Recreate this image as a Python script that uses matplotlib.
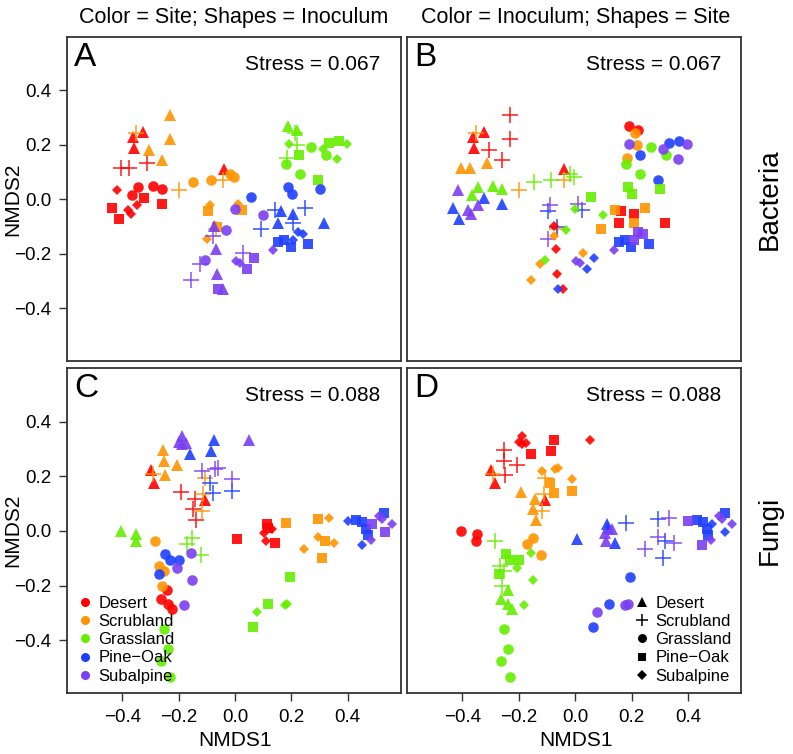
import matplotlib
matplotlib.use('Agg')
import matplotlib.pyplot as plt
from matplotlib.lines import Line2D

plt.rcParams['font.family'] = ['Liberation Sans', 'DejaVu Sans']

# ---------------- categories ----------------
codes = ['D', 'S', 'G', 'P', 'U']
names = ['Desert', 'Scrubland', 'Grassland', 'Pine\u2212Oak', 'Subalpine']
colors = {'D': '#FF0000', 'S': '#FF9400', 'G': '#66EE00', 'P': '#1F3FFF', 'U': '#7B3FF2'}
markers = {'D': '^', 'S': '+', 'G': 'o', 'P': 's', 'U': 'D'}

# ---------------- Bacteria ----------------
bac_site = ("DDDD" "DDD" "DDDD" "DDDD" "DDDD"
            "SSSS" "SSSS" "SSSS" "SSS" "SSS"
            "GG" "GGG" "GGGG" "GGGG" "GGGG"
            "PPPP" "PPPP" "PPPP" "PPPP" "PPP"
            "UUUU" "UUUU" "UUUU" "UUU" "UUU")
bac_inoc = ("DDDD" "SSS" "GGGG" "PPPP" "UUUU"
            "DDDD" "SSSS" "GGGG" "PPP" "UUU"
            "DD" "SSS" "GGGG" "PPPP" "UUUU"
            "DDDD" "SSSS" "GGGG" "PPPP" "UUU"
            "DDDD" "SSSS" "GGGG" "PPP" "UUU")
bac_x = [-0.325, -0.361, -0.358, -0.039, -0.405, -0.375, -0.313,
         -0.345, -0.366, -0.292, -0.260, -0.322, -0.435, -0.411, -0.260,
         -0.417, -0.346, -0.380, -0.370,
         -0.230, -0.230, -0.305, -0.260, -0.351, -0.200, -0.041, -0.066,
         -0.148, -0.085, -0.018, -0.004, -0.097, 0.025, -0.065,
         -0.090, 0.010, -0.098,
         0.189, 0.221, 0.213, 0.219, 0.183, 0.270, 0.322, 0.180, 0.230,
         0.228, 0.333, 0.369, 0.293, 0.191, 0.311, 0.398, 0.363,
         0.163, 0.207, 0.154, 0.317, 0.142, 0.248, 0.207, 0.092,
         0.187, 0.203, 0.057, 0.301, 0.154, 0.175, 0.198, 0.260,
         0.222, 0.242, 0.207,
         -0.074, -0.067, -0.063, -0.044, -0.077, -0.124, -0.156, 0.029,
         0.000, -0.033, -0.106, 0.100, -0.061, 0.068, 0.041,
         0.004, 0.018, 0.136]
bac_y = [0.247, 0.228, 0.189, 0.110, 0.114, 0.116, 0.132,
         0.045, 0.015, 0.051, 0.037, 0.006, -0.030, -0.073, -0.018,
         0.034, -0.022, -0.039, -0.052,
         0.311, 0.223, 0.181, 0.143, 0.244, 0.033, 0.071, -0.110,
         0.063, 0.073, 0.094, 0.083, -0.043, -0.040, -0.100,
         -0.021, -0.016, -0.144,
         0.271, 0.256, 0.244, 0.201, 0.153, 0.192, 0.162, 0.131, 0.095,
         0.162, 0.208, 0.214, 0.071, 0.204, 0.186, 0.204, 0.150,
         -0.043, -0.052, -0.085, -0.088, -0.040, -0.030, -0.085, -0.107,
         0.047, 0.021, 0.010, 0.040, -0.156, -0.149, -0.173, -0.162,
         -0.120, -0.126, -0.150,
         -0.098, -0.183, -0.275, -0.330, -0.134, -0.238, -0.297, -0.195,
         -0.037, -0.112, -0.222, -0.058, -0.330, -0.216, -0.254,
         -0.227, -0.234, -0.186]

# ---------------- Fungi ----------------
fun_site = ("DDD" "DDDD" "DDDD" "DDDD" "DDD"
            "SSSS" "SSSS" "SSSS" "SSSS" "SSSS"
            "GGG" "GGG" "GGGG" "GGG" "GGG"
            "PPP" "PPP" "PPPP" "PPPPP" "PP"
            "UUUUU" "UUUU" "UUUU" "UU" "UUUU")
fun_inoc = ("DDD" "SSSS" "GGGG" "PPPP" "UUU"
            "DDDD" "SSSS" "GGGG" "PPPP" "UUUU"
            "DDD" "SSS" "GGGG" "PPP" "UUU"
            "DDD" "SSS" "GGGG" "PPPPP" "UU"
            "DDDDD" "SSSS" "GGGG" "PP" "UUUU")
fun_x = [-0.298, -0.286, -0.106, -0.191, -0.142, -0.150, -0.138,
         -0.240, -0.263, -0.237, -0.224, 0.006, 0.112, 0.117, 0.142,
         0.104, 0.130, 0.110,
         -0.254, -0.252, -0.207, -0.248, -0.290, -0.106, -0.112, -0.118,
         -0.283, -0.268, -0.252, -0.260, 0.180, 0.295, 0.319, 0.310,
         0.333, 0.295, 0.352, 0.246,
         -0.405, -0.350, -0.353, -0.151, -0.171, -0.122,
         -0.252, -0.237, -0.262, -0.230, 0.196, 0.118, 0.063,
         0.078, 0.177, 0.186,
         -0.076, -0.086, -0.158, -0.090, -0.077, -0.012,
         -0.247, -0.230, -0.198, -0.269, 0.431, 0.452, 0.466, 0.472, 0.530,
         0.401, 0.451,
         -0.188, -0.199, -0.188, -0.174, 0.051, -0.118, -0.071, -0.060, -0.012,
         -0.157, -0.205, -0.151, -0.180, 0.485, 0.532,
         0.511, 0.520, 0.556, 0.482]
fun_y = [0.223, 0.177, 0.112, 0.144, 0.116, 0.079, 0.040,
         -0.217, -0.248, -0.266, -0.285, -0.029, 0.025, 0.011, -0.046,
         -0.006, 0.006, -0.037,
         0.297, 0.256, 0.241, 0.205, 0.208, 0.195, 0.136, 0.073,
         -0.038, -0.128, -0.147, -0.200, 0.028, 0.043, -0.037, -0.099,
         0.048, -0.023, -0.044, -0.066,
         -0.001, -0.011, -0.038, -0.027, -0.049, -0.088,
         -0.359, -0.432, -0.477, -0.533, -0.170, -0.267, -0.351,
         -0.296, -0.270, -0.266,
         0.333, 0.293, 0.280, 0.175, 0.138, 0.147,
         -0.083, -0.107, -0.107, -0.156, 0.039, 0.033, 0.007, -0.015, 0.067,
         0.037, -0.051,
         0.348, 0.326, 0.319, 0.322, 0.331, 0.218, 0.225, 0.229, 0.189,
         -0.079, -0.134, -0.179, -0.272, 0.025, -0.004,
         0.056, 0.042, 0.027, -0.032]

stress_bac = "Stress = 0.067"
stress_fun = "Stress = 0.088"
yticks = [-0.4, -0.2, 0.0, 0.2, 0.4]
xticks = [-0.4, -0.2, 0.0, 0.2, 0.4]

# ---------------- figure ----------------
W, H = 793, 754
fig = plt.figure(figsize=(W / 100, H / 100), dpi=100)


def rect(l, t, r, b):
    return [l / W, 1 - b / H, (r - l) / W, (b - t) / H]


ax_A = fig.add_axes(rect(67.3, 37, 400.7, 361))
ax_B = fig.add_axes(rect(407.5, 37, 741, 361))
ax_C = fig.add_axes(rect(67.3, 368, 400.7, 693))
ax_D = fig.add_axes(rect(407.5, 368, 741, 693))

msz = {'^': 8.8, '+': 11, 'o': 7.6, 's': 7.0, 'D': 5.6}


def draw(ax, site, inoc, xs, ys, color_by_site):
    for s, i, x, y in zip(site, inoc, xs, ys):
        c = colors[s] if color_by_site else colors[i]
        m = markers[i] if color_by_site else markers[s]
        if m == '+':
            ax.plot([x], [y], linestyle='none', marker=m, ms=msz[m], mew=1.1,
                    color=c, alpha=0.9)
        else:
            ax.plot([x], [y], linestyle='none', marker=m, ms=msz[m], mew=0,
                    color=c, alpha=0.9)


draw(ax_A, bac_site, bac_inoc, bac_x, bac_y, True)
draw(ax_B, bac_site, bac_inoc, bac_x, bac_y, False)
draw(ax_C, fun_site, fun_inoc, fun_x, fun_y, True)
draw(ax_D, fun_site, fun_inoc, fun_x, fun_y, False)


def fmt(v):
    return ("%.1f" % v).replace('-', '\u2212')


for ax, letter, stress in [(ax_A, 'A', stress_bac), (ax_B, 'B', stress_bac),
                           (ax_C, 'C', stress_fun), (ax_D, 'D', stress_fun)]:
    ax.set_xlim(-0.595, 0.588)
    ax.set_ylim(-0.593, 0.596)
    for sp in ax.spines.values():
        sp.set_color('#333333')
        sp.set_linewidth(1.3)
    ax.tick_params(direction='out', length=5.5, width=1.0, color='#333333',
                   labelsize=13.5, pad=6)
    ax.set_xticks(xticks)
    ax.set_yticks(yticks)
    ax.set_xticklabels([fmt(v) for v in xticks])
    ax.set_yticklabels([fmt(v) for v in yticks])
    ax.text(0.02, 0.985, letter, transform=ax.transAxes, fontsize=24,
            ha='left', va='top')
    ax.text(0.94, 0.945, stress, transform=ax.transAxes, fontsize=15,
            ha='right', va='top')

for ax in (ax_A, ax_B):
    ax.tick_params(axis='x', bottom=False, labelbottom=False)
for ax in (ax_B, ax_D):
    ax.tick_params(axis='y', left=False, labelleft=False)

# axis labels and titles
fig.text(233.5 / W, 1 - 18 / H, "Color = Site; Shapes = Inoculum", fontsize=15.5,
         ha='center', va='center')
fig.text(576 / W, 1 - 18 / H, "Color = Inoculum; Shapes = Site", fontsize=15.5,
         ha='center', va='center')
fig.text(770 / W, 1 - 199 / H, "Bacteria", fontsize=20, rotation=90,
         ha='center', va='center')
fig.text(770 / W, 1 - 530 / H, "Fungi", fontsize=20, rotation=90,
         ha='center', va='center')
for yc in (199, 530):
    fig.text(13 / W, 1 - yc / H, "NMDS2", fontsize=15, rotation=90,
             ha='center', va='center')
for xc in (235, 576):
    fig.text(xc / W, 1 - 741 / H, "NMDS1", fontsize=15, ha='center', va='center')

# legends
h_site = [Line2D([], [], linestyle='none', marker='o', ms=6.5, mew=0,
                 color=colors[c]) for c in codes]
ax_C.legend(h_site, names, loc='lower left', frameon=False, fontsize=12,
            handletextpad=0.3, labelspacing=0.2, borderaxespad=0.15,
            handlelength=1.0, bbox_to_anchor=(0.0, 0.0))
h_shape = []
for c in codes:
    m = markers[c]
    if m == '+':
        h_shape.append(Line2D([], [], linestyle='none', marker=m, ms=9, mew=1.1,
                              color='black'))
    else:
        h_shape.append(Line2D([], [], linestyle='none', marker=m,
                              ms=msz[m] * 0.85, mew=0, color='black'))
ax_D.legend(h_shape, names, loc='lower right', frameon=False, fontsize=12,
            handletextpad=0.3, labelspacing=0.2, borderaxespad=0.15,
            handlelength=1.0)

fig.savefig('out.png', dpi=100)
